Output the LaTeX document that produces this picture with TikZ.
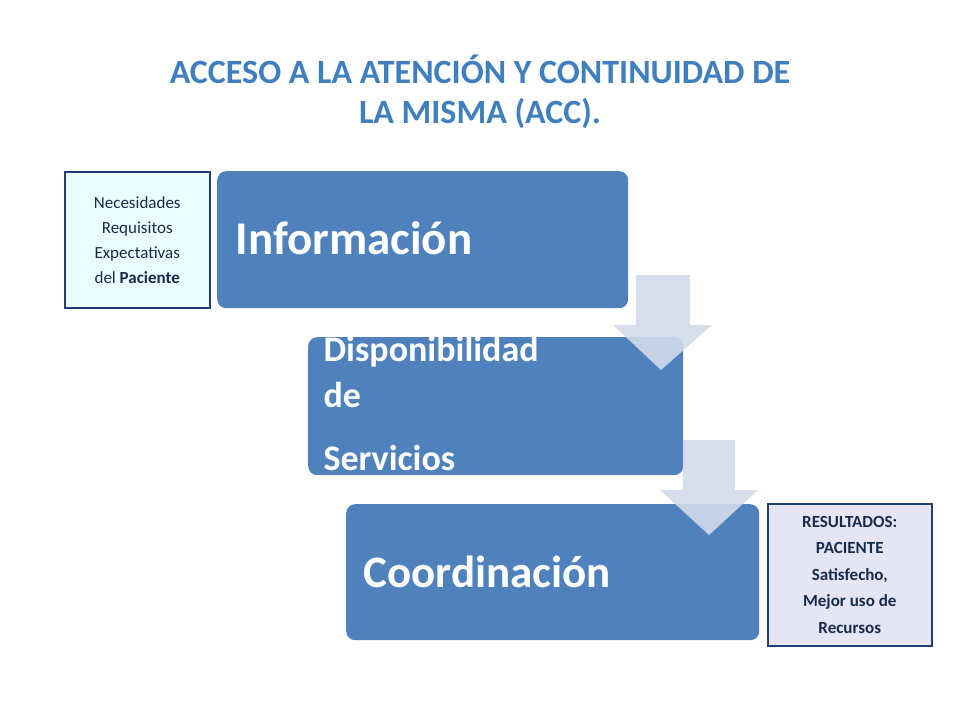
\documentclass[tikz,border=0pt]{standalone}
\usepackage{fontspec}
\setmainfont{Carlito}
\begin{document}
\begin{tikzpicture}[x=1pt,y=-1pt,
 bigbox/.style={fill=boxblue,rounded corners=9pt},
 wtext/.style={text=white,font=\bfseries,anchor=west},
 darrow/.style={fill=arrowgray,fill opacity=0.9}]
\definecolor{boxblue}{HTML}{4F81BD}
\definecolor{arrowgray}{HTML}{D2DAE9}
\definecolor{titleblue}{HTML}{3F7FBF}
\definecolor{darkblue}{HTML}{1F3F6F}
\useasboundingbox (0,0) rectangle (960,720);
\node[text=titleblue,font=\bfseries\fontsize{34}{40}\selectfont,align=center] (title) at (480,92) {ACCESO A LA ATENCIÓN Y CONTINUIDAD DE\\LA MISMA (ACC).};
\node[bigbox,minimum width=411,minimum height=137,anchor=north west] (b1) at (217,171) {};
\node[wtext,font=\bfseries\fontsize{47}{50}\selectfont] (t1) at (232,238) {Información};
\node[bigbox,minimum width=375,minimum height=138,anchor=north west] (b2) at (308,337) {};
\begin{scope}
\clip (308,337) rectangle (683,475);
\node[wtext,font=\bfseries\fontsize{36}{40}\selectfont] (t2a) at (320,352) {Disponibilidad};
\node[wtext,font=\bfseries\fontsize{36}{40}\selectfont] (t2b) at (320,395) {de};
\node[wtext,font=\bfseries\fontsize{36}{40}\selectfont] (t2c) at (320,458) {Servicios};
\end{scope}
\node[bigbox,minimum width=413,minimum height=136,anchor=north west] (b3) at (346,504) {};
\node[wtext,font=\bfseries\fontsize{45}{50}\selectfont] (t3) at (360,572) {Coordinación};
\path[darrow] (636,275) -- (690,275) -- (690,325) -- (712,325) -- (661,370) -- (613,325) -- (636,325) -- cycle;
\path[darrow] (683,440) -- (735,440) -- (735,490) -- (758,490) -- (709,535) -- (660,490) -- (683,490) -- cycle;
\node[draw=darkblue,line width=1.5pt,fill=blue!6!cyan!8,minimum width=145,minimum height=136,anchor=north west] (lb) at (64,171) {};
\node[align=center,font=\fontsize{17}{25}\selectfont,text=darkblue!70!black] at (lb.center) {Necesidades\\Requisitos\\Expectativas\\del \textbf{Paciente}};
\node[draw=darkblue,line width=1.5pt,fill=cyan!25!blue!10,minimum width=164,minimum height=142,anchor=north west] (rb) at (767,503) {};
\node[align=center,font=\bfseries\fontsize{17}{26.5}\selectfont,text=darkblue!70!black] at (rb.center) {RESULTADOS:\\PACIENTE\\Satisfecho,\\Mejor uso de\\Recursos};
\end{tikzpicture}
\end{document}
